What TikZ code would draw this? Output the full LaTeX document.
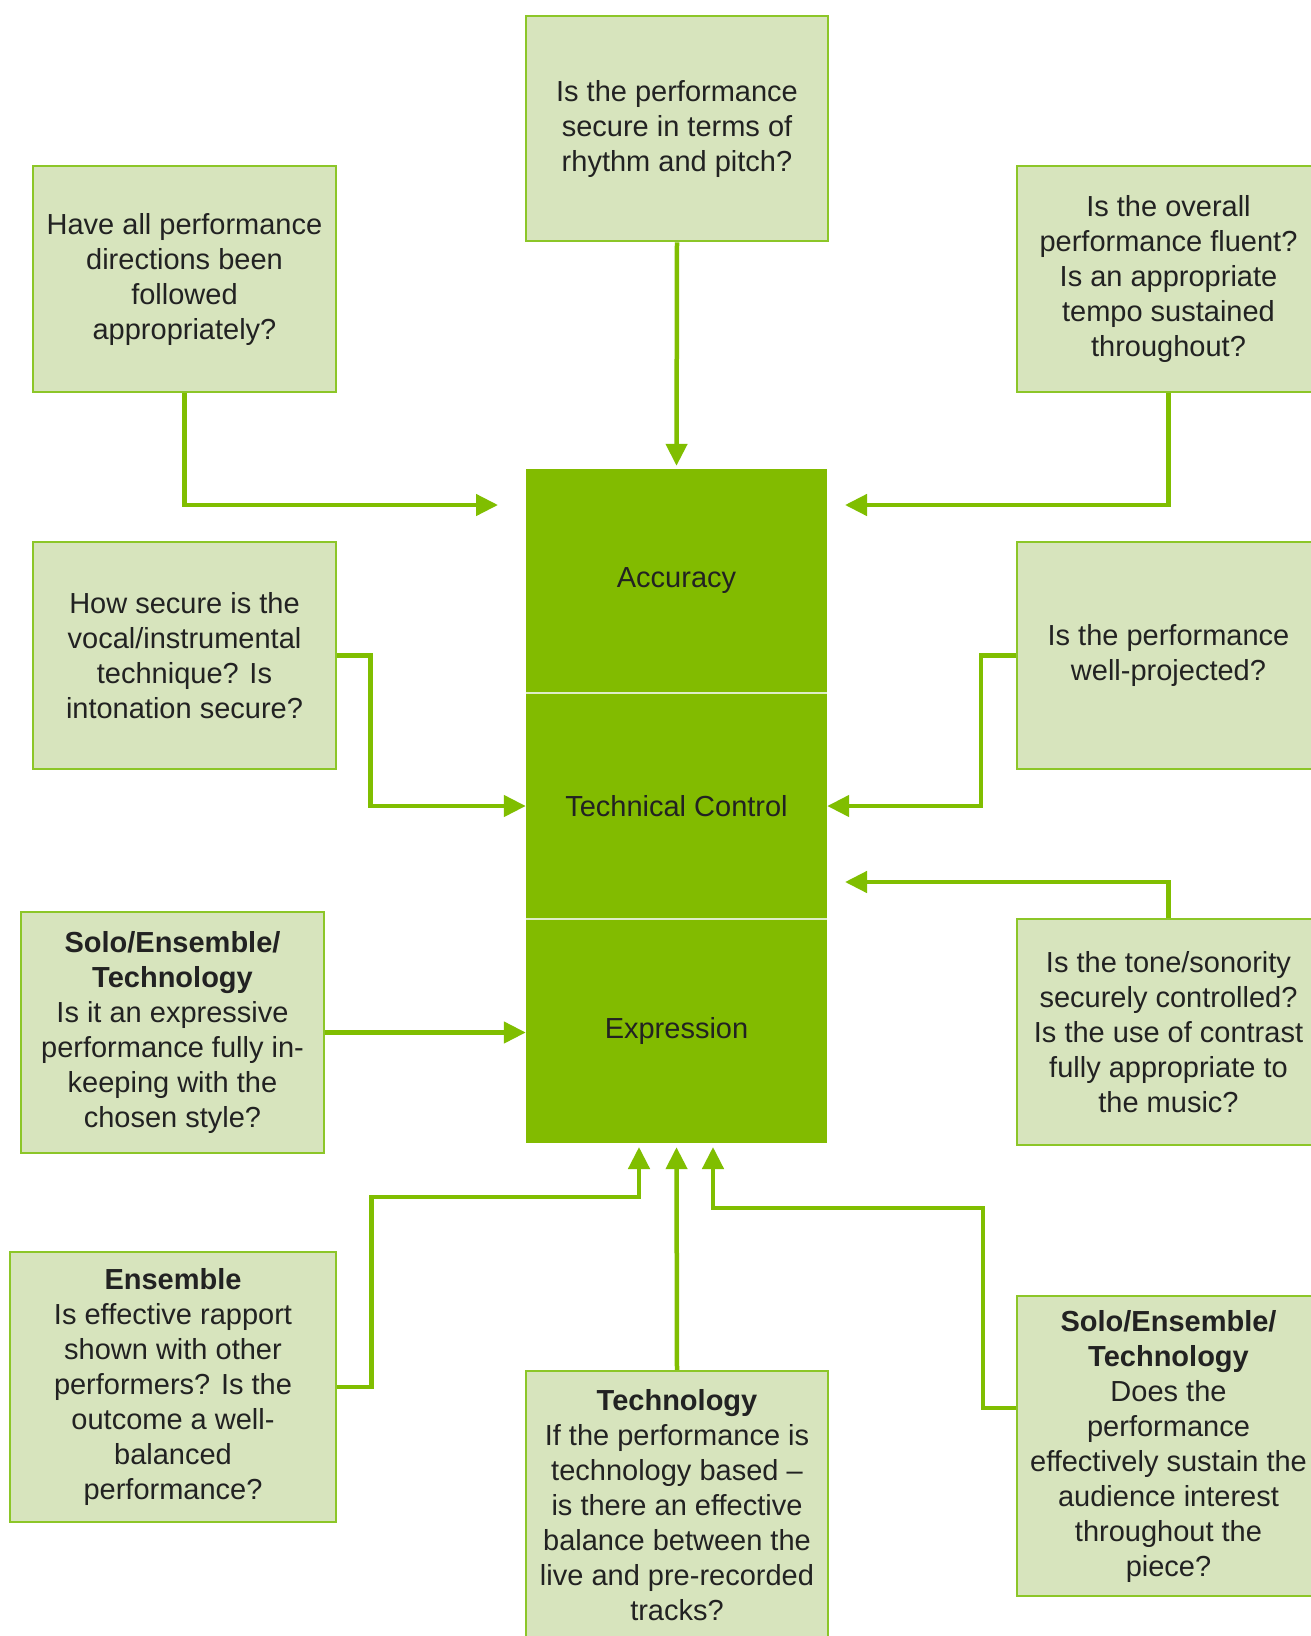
\documentclass[tikz,border=0pt]{standalone}
\usepackage{fontspec}
\setmainfont{Liberation Sans}
\usetikzlibrary{arrows.meta}
\definecolor{qfill}{RGB}{215,228,189}
\definecolor{qline}{RGB}{140,198,40}
\definecolor{colfill}{RGB}{130,187,0}
\definecolor{divline}{RGB}{222,236,200}
\definecolor{linkcol}{RGB}{128,190,0}
\definecolor{txt}{RGB}{34,34,34}
\begin{document}
\begin{tikzpicture}[x=1pt,y=-1pt,
  qbox/.style={draw=qline, fill=qfill, line width=2.5pt, inner sep=0pt,
    align=center, text=txt, font=\fontsize{29}{35}\selectfont,
    minimum width=303pt},
  colpart/.style={fill=colfill, inner sep=0pt, minimum width=301pt,
    text=txt, font=\fontsize{29}{35}\selectfont},
  divider/.style={draw=divline, line width=2.5pt},
  link/.style={draw=linkcol, line width=4.5pt,
    -{Triangle[length=22pt,width=21pt]}}
]
\useasboundingbox (0,0) rectangle (1311,1636);
\fill[white] (0,0) rectangle (1311,1636);

% central column
\node[colpart, minimum height=224pt] (acc) at (676.5,581) {Accuracy};
\node[colpart, minimum height=226pt] (tech) at (676.5,806) {Technical Control};
\node[colpart, minimum height=224pt] (expr) at (676.5,1031) {Expression};
\draw[divider] (acc.south west) -- (acc.south east);
\draw[divider] (tech.south west) -- (tech.south east);

% question boxes
\node[qbox, minimum width=302pt, minimum height=225pt] (q1) at (677,128.5)
  {Is the performance\\secure in terms of\\rhythm and pitch?};
\node[qbox, minimum height=226pt] (q2) at (184.5,279)
  {Have all performance\\directions been\\followed\\appropriately?};
\node[qbox, minimum height=226pt] (q3) at (1168.5,279)
  {Is the overall\\performance fluent?\\Is an appropriate\\tempo sustained\\throughout?};
\node[qbox, minimum height=227pt] (q4) at (184.5,655.5)
  {How secure is the\\vocal/instrumental\\technique? Is\\intonation secure?};
\node[qbox, minimum height=227pt] (q5) at (1168.5,655.5)
  {Is the performance\\well-projected?};
\node[qbox, minimum height=241pt] (q6) at (172.5,1032.5)
  {\textbf{Solo/Ensemble/}\\\textbf{Technology}\\Is it an expressive\\performance fully in-\\keeping with the\\chosen style?};
\node[qbox, minimum height=226pt] (q7) at (1168.5,1032)
  {Is the tone/sonority\\securely controlled?\\Is the use of contrast\\fully appropriate to\\the music?};
\node[qbox, minimum width=326pt, minimum height=270pt] (q8) at (173,1387)
  {\textbf{Ensemble}\\Is effective rapport\\shown with other\\performers? Is the\\outcome a well-\\balanced\\performance?};
\node[qbox, minimum width=302pt, minimum height=268pt] (q9) at (677,1505)
  {\textbf{Technology}\\If the performance is\\technology based –\\is there an effective\\balance between the\\live and pre-recorded\\tracks?};
\node[qbox, minimum height=300pt] (q10) at (1168.5,1446)
  {\textbf{Solo/Ensemble/}\\\textbf{Technology}\\Does the\\performance\\effectively sustain the\\audience interest\\throughout the\\piece?};

% free arrow ends and bends
\coordinate (t2) at (498,505);
\coordinate (t3) at (845,505);
\coordinate (t7) at (845,882);
\coordinate (k8) at (639,1197);
\coordinate (t8) at (639,1147);
\coordinate (k10) at (713,1208);
\coordinate (t10) at (713,1147);

% connectors
\draw[link, shorten >=3pt] (q1.south) -- (acc.north);
\draw[link] (q2.south) |- (t2);
\draw[link] (q3.south) |- (t3);
\draw[link] (q4.east) -- ++(33,0) |- (tech.west);
\draw[link] (q5.west) -- ++(-35,0) |- (tech.east);
\draw[link] (q7.north) |- (t7);
\draw[link] (q6.east) -- (q6.east -| expr.west);
\draw[link] (q8.east) -- ++(34,0) |- (k8) -- (t8);
\draw[link, shorten >=4pt] (q9.north) -- (expr.south);
\draw[link] ([yshift=38pt]q10.west) -- ++(-33,0) |- (k10) -- (t10);
\end{tikzpicture}
\end{document}
